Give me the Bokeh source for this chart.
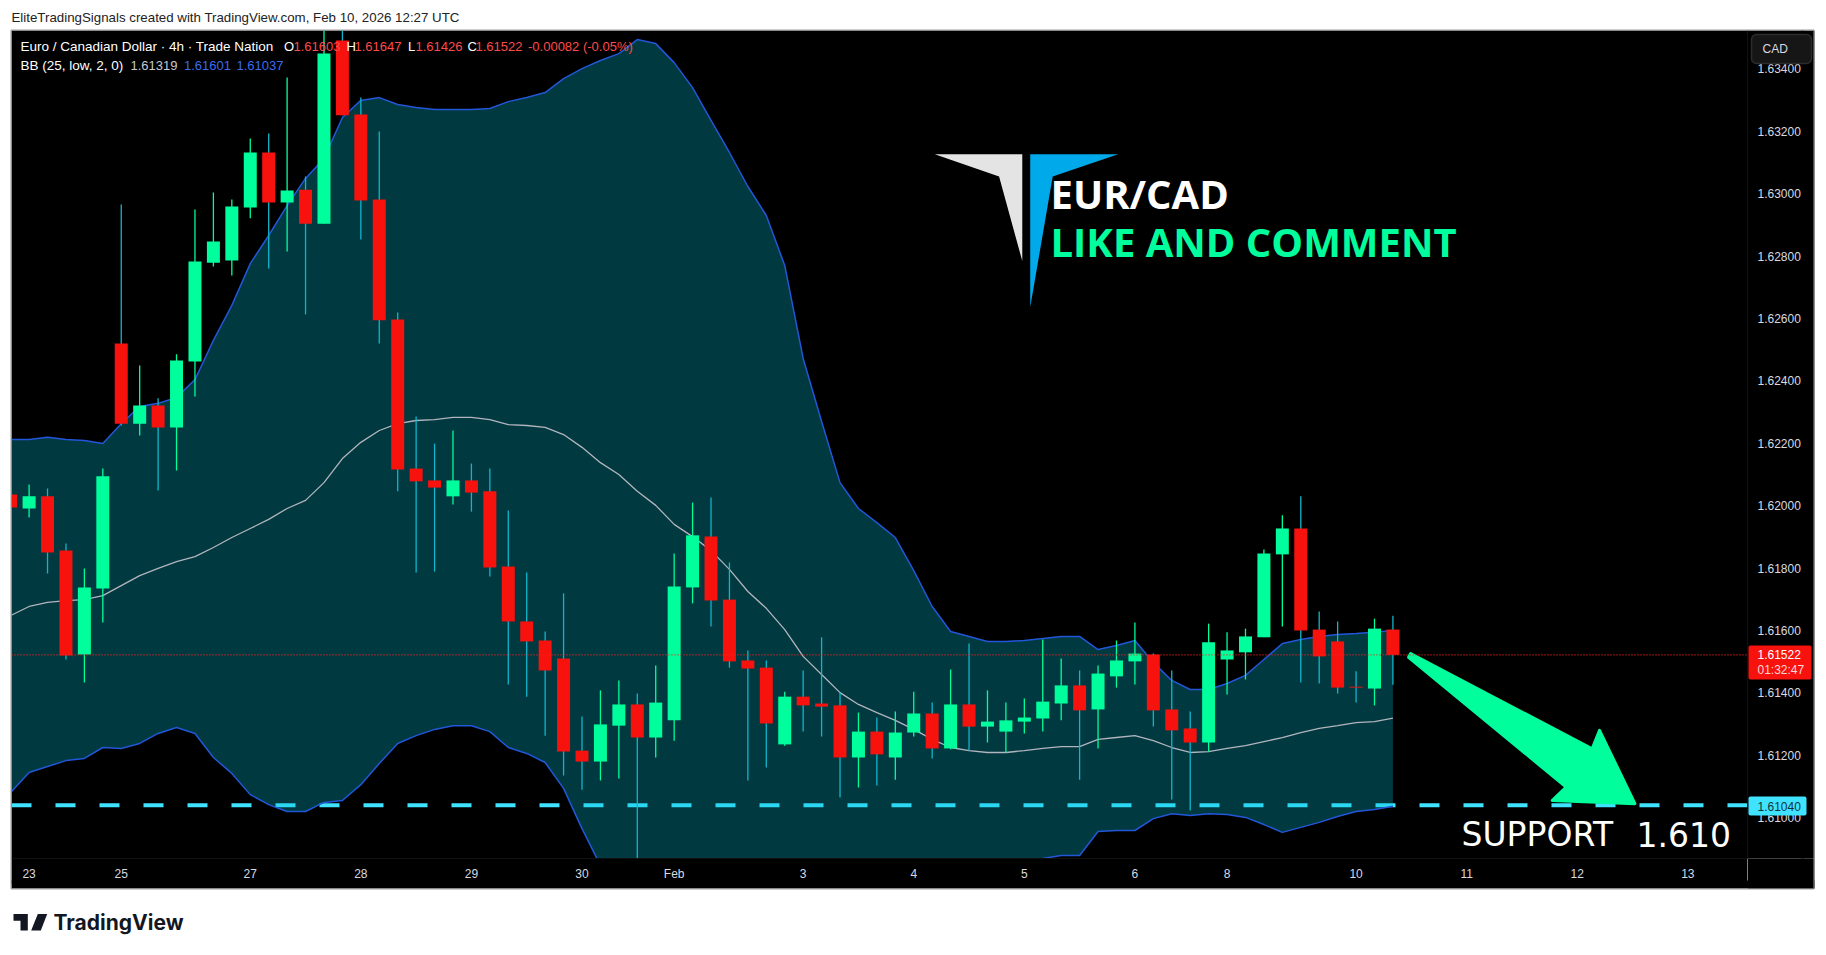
from bokeh.plotting import figure
from bokeh.embed import file_html
from bokeh.resources import INLINE
from bokeh.core.properties import value
from bokeh.models import FixedTicker, Span, Range1d

# candles, bar -1 is the one cut by the left edge
bars = list(range(-1, 75))
opens = [1.62036, 1.61991, 1.62030, 1.61856, 1.61523, 1.61735, 1.62520, 1.62263, 1.62321, 1.62251, 1.62462, 1.62779, 1.62786, 1.62956, 1.63132, 1.62972, 1.63013, 1.62904, 1.63491, 1.63254, 1.62981, 1.62597,
         1.62119, 1.62081, 1.62030, 1.62081, 1.62046, 1.61805, 1.61629, 1.61568, 1.61510, 1.61215, 1.61180, 1.61295, 1.61363, 1.61257, 1.61312, 1.61738, 1.61901, 1.61699, 1.61504, 1.61481, 1.61235, 1.61388,
         1.61366, 1.61360, 1.61193, 1.61276, 1.61193, 1.61273, 1.61334, 1.61222, 1.61363, 1.61292, 1.61276, 1.61308, 1.61318, 1.61366, 1.61424, 1.61347, 1.61453, 1.61501, 1.61523, 1.61347, 1.61286, 1.61241,
         1.61507, 1.61530, 1.61578, 1.61844, 1.61927, 1.61603, 1.61565, 1.61420, 1.61414, 1.61603]
highs = [1.62046, 1.62068, 1.62055, 1.61879, 1.61799, 1.62119, 1.62965, 1.62449, 1.62344, 1.62485, 1.62949, 1.63004, 1.62981, 1.63177, 1.63193, 1.63372, 1.63055, 1.63555, 1.63555, 1.63308, 1.63199, 1.62619,
         1.62286, 1.62199, 1.62241, 1.62135, 1.62119, 1.61985, 1.61786, 1.61597, 1.61719, 1.61324, 1.61408, 1.61440, 1.61398, 1.61488, 1.61847, 1.62010, 1.62026, 1.61818, 1.61536, 1.61504, 1.61404, 1.61472,
         1.61578, 1.61401, 1.61337, 1.61321, 1.61340, 1.61404, 1.61369, 1.61475, 1.61558, 1.61408, 1.61369, 1.61382, 1.61571, 1.61510, 1.61472, 1.61488, 1.61568, 1.61626, 1.61526, 1.61472, 1.61340, 1.61622,
         1.61594, 1.61606, 1.61860, 1.61969, 1.62030, 1.61661, 1.61629, 1.61469, 1.61638, 1.61647]
lows = [1.61978, 1.61962, 1.61783, 1.61507, 1.61433, 1.61626, 1.62257, 1.62225, 1.62049, 1.62113, 1.62350, 1.62767, 1.62738, 1.62921, 1.62760, 1.62815, 1.62613, 1.62904, 1.63251, 1.62853, 1.62520, 1.62046,
        1.61786, 1.61789, 1.62004, 1.61981, 1.61773, 1.61427, 1.61388, 1.61263, 1.61135, 1.61090, 1.61119, 1.61126, 1.60815, 1.61193, 1.61247, 1.61687, 1.61613, 1.61481, 1.61119, 1.61161, 1.61231, 1.61276,
        1.61260, 1.61065, 1.61097, 1.61103, 1.61122, 1.61260, 1.61190, 1.61219, 1.61215, 1.61241, 1.61209, 1.61270, 1.61276, 1.61312, 1.61122, 1.61222, 1.61417, 1.61427, 1.61292, 1.61058, 1.61023, 1.61212,
        1.61395, 1.61443, 1.61578, 1.61613, 1.61433, 1.61430, 1.61398, 1.61369, 1.61360, 1.61426]
closes = [1.61994, 1.62030, 1.61850, 1.61520, 1.61738, 1.62094, 1.62263, 1.62321, 1.62251, 1.62465, 1.62783, 1.62847, 1.62959, 1.63132, 1.62972, 1.63010, 1.62904, 1.63449, 1.63251, 1.62978, 1.62594, 1.62116,
          1.62078, 1.62058, 1.62081, 1.62042, 1.61802, 1.61629, 1.61565, 1.61472, 1.61212, 1.61180, 1.61299, 1.61363, 1.61257, 1.61369, 1.61741, 1.61905, 1.61696, 1.61501, 1.61478, 1.61302, 1.61388, 1.61360,
          1.61356, 1.61193, 1.61276, 1.61203, 1.61273, 1.61334, 1.61222, 1.61363, 1.61292, 1.61308, 1.61312, 1.61321, 1.61372, 1.61424, 1.61344, 1.61462, 1.61504, 1.61526, 1.61344, 1.61280, 1.61241, 1.61562,
          1.61536, 1.61581, 1.61847, 1.61927, 1.61600, 1.61517, 1.61417, 1.61417, 1.61606, 1.61522]

# BB (25, low, 2, 0)
bb_upper = [1.62212, 1.62212, 1.62219, 1.62212, 1.62209, 1.62199, 1.62263, 1.62318, 1.62328, 1.62347, 1.62404, 1.62530, 1.62642, 1.62776, 1.62866, 1.62962, 1.63049, 1.63113, 1.63244, 1.63299, 1.63308, 1.63286,
            1.63276, 1.63270, 1.63270, 1.63270, 1.63273, 1.63295, 1.63308, 1.63324, 1.63369, 1.63401, 1.63427, 1.63449, 1.63494, 1.63481, 1.63420, 1.63340, 1.63235, 1.63132, 1.63023, 1.62930, 1.62770, 1.62472,
            1.62270, 1.62074, 1.61991, 1.61946, 1.61898, 1.61792, 1.61677, 1.61597, 1.61581, 1.61565, 1.61565, 1.61568, 1.61574, 1.61581, 1.61581, 1.61539, 1.61552, 1.61568, 1.61497, 1.61440, 1.61411, 1.61411,
            1.61430, 1.61456, 1.61507, 1.61558, 1.61571, 1.61581, 1.61587, 1.61590, 1.61594, 1.61601]
bb_mid = [1.61648, 1.61677, 1.61690, 1.61696, 1.61699, 1.61712, 1.61744, 1.61776, 1.61799, 1.61821, 1.61837, 1.61866, 1.61898, 1.61927, 1.61956, 1.61991, 1.62017, 1.62074, 1.62151, 1.62203, 1.62241, 1.62263,
          1.62273, 1.62276, 1.62283, 1.62283, 1.62276, 1.62260, 1.62257, 1.62251, 1.62228, 1.62187, 1.62138, 1.62100, 1.62046, 1.62001, 1.61940, 1.61901, 1.61856, 1.61796, 1.61725, 1.61671, 1.61603, 1.61517,
          1.61459, 1.61401, 1.61363, 1.61337, 1.61312, 1.61283, 1.61251, 1.61225, 1.61215, 1.61209, 1.61209, 1.61215, 1.61222, 1.61228, 1.61228, 1.61251, 1.61257, 1.61263, 1.61247, 1.61225, 1.61209, 1.61212,
          1.61222, 1.61231, 1.61244, 1.61257, 1.61273, 1.61286, 1.61295, 1.61305, 1.61308, 1.61319]
bb_lower = [1.61081, 1.61145, 1.61164, 1.61183, 1.61190, 1.61225, 1.61222, 1.61238, 1.61270, 1.61289, 1.61270, 1.61193, 1.61142, 1.61074, 1.61042, 1.61020, 1.61020, 1.61049, 1.61055, 1.61106, 1.61174, 1.61238,
            1.61263, 1.61283, 1.61295, 1.61295, 1.61276, 1.61225, 1.61206, 1.61177, 1.61094, 1.60965, 1.60847, 1.60751, 1.60597, 1.60520, 1.60459, 1.60462, 1.60478, 1.60459, 1.60427, 1.60411, 1.60437, 1.60562,
            1.60648, 1.60728, 1.60735, 1.60728, 1.60725, 1.60773, 1.60824, 1.60853, 1.60850, 1.60853, 1.60853, 1.60863, 1.60869, 1.60879, 1.60879, 1.60956, 1.60959, 1.60959, 1.60997, 1.61013, 1.61007, 1.61013,
            1.61010, 1.61001, 1.60978, 1.60953, 1.60969, 1.60985, 1.61004, 1.61020, 1.61026, 1.61037]

price_ticks = [1.610, 1.612, 1.614, 1.616, 1.618, 1.620, 1.622, 1.624, 1.626, 1.628, 1.630, 1.632, 1.634]
date_bars = [0, 5, 12, 18, 24, 30, 35, 42, 48, 54, 60, 65, 72, 78, 84, 90]
date_labels = ["23", "25", "27", "28", "29", "30", "Feb", "3", "4", "5", "6", "8", "10", "11", "12", "13"]

last_price = 1.61522
support = 1.61040

# big arrow and the logo wings, in bar / price
arrow_x = [74.96, 84.81, 85.21, 87.13, 82.64, 83.40, 74.85]
arrow_y = [1.61526, 1.61221, 1.61280, 1.61045, 1.61055, 1.61098, 1.61514]
wing_grey_x = [49.14, 53.89, 53.89, 52.63]
wing_grey_y = [1.63126, 1.63126, 1.62784, 1.63055]
wing_blue_x = [54.32, 59.09, 55.54, 54.32]
wing_blue_y = [1.63126, 1.63126, 1.63055, 1.62636]

GREEN = "#00ff9c"
RED = "#f7120e"
WICK = "#12b5cb"
BLUE = "#2157d8"
FILL = "#00bcd4"
TEXT = "#d8dae0"
FONT = "Liberation Sans"


def px(x):  # picture pixel to bar number
    return (x - 28.6) / 18.43


def py(y):  # picture pixel to price
    return 1.616 + (630 - y) * 3.205e-5


p = figure(frame_width=1736, frame_height=828, min_border_left=11, min_border_top=30,
           min_border_right=69, min_border_bottom=87, y_axis_location="right",
           x_range=Range1d(px(11), px(1747)), y_range=Range1d(py(858), py(30)),
           output_backend="svg", toolbar_location=None,
           background_fill_color="black", border_fill_color="white")
p.grid.visible = False
p.outline_line_color = None

ya = p.yaxis[0]
ya.ticker = FixedTicker(ticks=price_ticks)
ya.major_label_overrides = {t: f"{t:.5f}" for t in price_ticks}
ya.background_fill_color = "black"
xa = p.xaxis[0]
xa.ticker = FixedTicker(ticks=date_bars)
xa.major_label_overrides = dict(zip(date_bars, date_labels))
xa.background_fill_color = "black"
for ax in (xa, ya):
    ax.axis_line_color = "#111111"
    ax.major_tick_line_color = None
    ax.minor_tick_line_color = None
    ax.major_label_text_color = TEXT
    ax.major_label_text_font = FONT
    ax.major_label_text_font_size = "12px"
ya.major_label_standoff = 4
xa.major_label_standoff = 2

# support line goes under the band so the band tints it
p.add_layout(Span(location=support, dimension="width", line_color="#3fe3ff", line_width=4,
                  line_dash="20 24", level="underlay"))

p.varea(bars, bb_lower, bb_upper, fill_color=FILL, fill_alpha=0.3)
p.line(bars, bb_upper, line_color=BLUE, line_width=1.5)
p.line(bars, bb_lower, line_color=BLUE, line_width=1.5)
p.line(bars, bb_mid, line_color="#b2b5be", line_width=1.3)

up = [c >= o for o, c in zip(opens, closes)]
p.segment(bars, lows, bars, highs, line_width=1.3, line_color=[GREEN if u else WICK for u in up])
p.vbar(bars, top=[max(o, c) for o, c in zip(opens, closes)], bottom=[min(o, c) for o, c in zip(opens, closes)],
       width=0.705, fill_color=[GREEN if u else RED for u in up], line_color=None)

p.add_layout(Span(location=last_price, dimension="width", line_color="#ff2018", line_width=1.4, line_dash="1 2"))

p.patch(arrow_x, arrow_y, fill_color=GREEN, line_color=GREEN, line_width=3, line_join="round")
p.patch(wing_grey_x, wing_grey_y, fill_color="#e4e4e4", line_color=None)
p.patch(wing_blue_x, wing_blue_y, fill_color="#00aaea", line_color=None)


def text(x, y, s, color=TEXT, size=12, style="normal", font=FONT):
    p.text([px(x)], [py(y)], text=[s], text_color=color, text_font=value(font), text_font_size=f"{size}px",
           text_font_style=style, text_baseline="middle", level="overlay")


def box(left, right, top, bottom, **kw):
    # overlay level is the one that is not clipped to the frame
    p.quad(left=[px(left)], right=[px(right)], top=[py(top)], bottom=[py(bottom)], level="overlay", **kw)


# the strip and corner the axes leave white
box(11, 1814, 880, 888, fill_color="black", line_color=None)
box(1747.5, 1814, 858, 888, fill_color="black", line_color=None)
box(1801, 1814, 30, 858, fill_color="black", line_color=None)

text(1050, 193, "EUR/CAD", "white", 40, "bold", "Open Sans")
text(1050, 241, "LIKE AND COMMENT", GREEN, 40, "bold", "Open Sans")
text(1461, 834, "SUPPORT", "white", 33, "normal", "DejaVu Sans")
text(1636, 834, "1.610", "white", 33, "normal", "DejaVu Sans")

text(11, 16.7, "EliteTradingSignals created with TradingView.com, Feb 10, 2026 12:27 UTC", "#222222", 13.3)

text(20, 46, "Euro / Canadian Dollar · 4h · Trade Nation", "white", 13.5)
for x, s, c in [(283.5, "O", "white"), (293, "1.61603", "#ff4a4a"), (346, "H", "white"), (354, "1.61647", "#ff4a4a"),
                (407.5, "L", "white"), (415, "1.61426", "#ff4a4a"), (467, "C", "white"), (475, "1.61522", "#ff4a4a"),
                (527.5, "-0.00082 (-0.05%)", "#ff4a4a")]:
    text(x, 46, s, c, 13)
text(20, 65, "BB (25, low, 2, 0)", "white", 13.5)
text(130, 65, "1.61319", "#c8cad0", 13)
text(183.5, 65, "1.61601", "#3a6cf0", 13)
text(236, 65, "1.61037", "#3a6cf0", 13)

# price tags on the axis
box(1748, 1811, 645, 679, fill_color="#f7120e", line_color=None, border_radius=2)
text(1757, 654, "1.61522", "white", 12)
text(1757, 669, "01:32:47", "#ffd6d6", 12)
box(1748, 1806, 796, 815, fill_color="#3fe3ff", line_color=None, border_radius=2)
text(1757, 805.5, "1.61040", "#10323a", 12)

box(1751, 1811, 34, 63, fill_color="#161616", line_color="#2c2c2c", line_width=1.5, border_radius=5)
text(1762, 48, "CAD", TEXT, 12)

# chart border
box(10.5, 1813.5, 29.5, 888.5, fill_alpha=0, line_color="#9a9a9a", line_width=1)

# TradingView logo under the chart
p.patch([px(v) for v in [13, 27.3, 27.3, 20, 20, 13]], [py(v) for v in [913.5, 913.5, 930, 930, 920.3, 920.3]],
        fill_color="#131722", line_color=None, level="overlay")
p.patch([px(v) for v in [37.3, 46.7, 40.3, 30.7]], [py(v) for v in [913.5, 913.5, 930, 930]],
        fill_color="#131722", line_color=None, level="overlay")
p.scatter([px(31.7)], [py(917.2)], size=7, fill_color="#131722", line_color=None, level="overlay")
text(53, 922, "TradingView", "#131722", 21, "bold", "Inter")

open("out.html", "w").write(file_html(p, INLINE))
